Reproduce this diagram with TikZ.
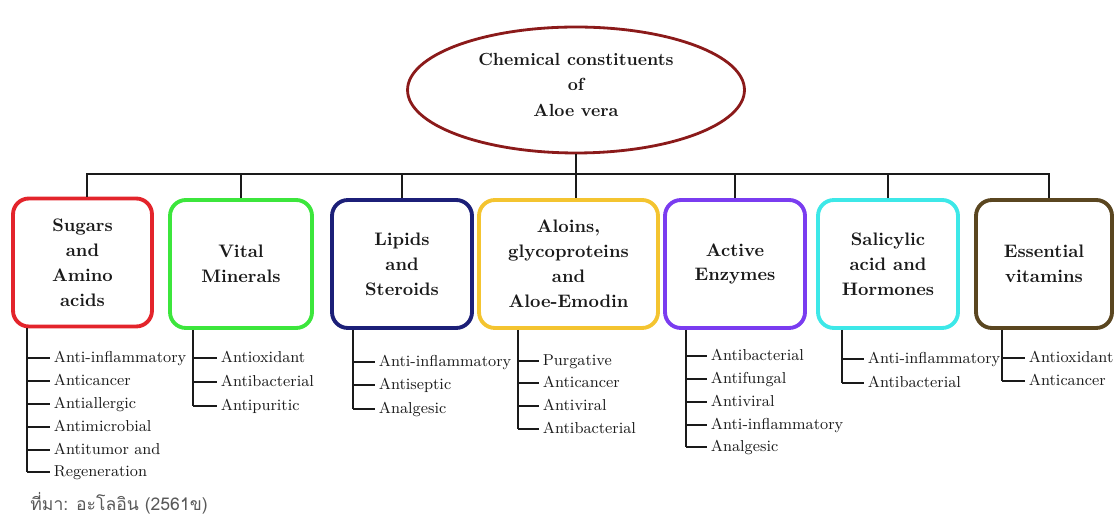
\documentclass[tikz,border=0pt]{standalone}
\usepackage{fontspec}
\newfontfamily\thaifont[Script=Thai]{Loma}
\usetikzlibrary{shapes.geometric,calc}
\definecolor{rootred}{HTML}{8B1A1A}
\definecolor{sugred}{HTML}{E3242B}
\definecolor{vitgreen}{HTML}{3CE63C}
\definecolor{lipblue}{HTML}{1C1F78}
\definecolor{alogold}{HTML}{F4C430}
\definecolor{enzviolet}{HTML}{7A3CF0}
\definecolor{salcyan}{HTML}{3DE8E8}
\definecolor{vitbrown}{HTML}{5A4620}
\definecolor{inkgray}{HTML}{1A1A1A}
\tikzset{
  root/.style={ellipse, draw=rootred, line width=1.6pt, minimum width=6.74cm, minimum height=2.52cm, align=center, font=\fontsize{10}{14.7}\selectfont\bfseries, text=inkgray},
  group/.style={rectangle, rounded corners=9pt, line width=2.2pt, minimum height=2.56cm, align=center, font=\fontsize{10.3}{14.2}\selectfont\bfseries, text=inkgray, fill=white},
  leaf/.style={anchor=west, inner xsep=2pt, inner ysep=0pt, text height=7pt, text depth=2pt, font=\fontsize{9}{12}\selectfont, text=inkgray},
  tree/.style={line width=1.3pt, draw=inkgray},
  twig/.style={line width=0.7pt, draw=inkgray}
}

\begin{document}
\begin{tikzpicture}[x=0.02cm, y=-0.02cm]
\useasboundingbox (0,0) rectangle (1114,519);
% root and groups
\node[root, text depth=6pt] (root) at (576,90) {Chemical constituents\\of\\Aloe vera};
\node[group, draw=sugred, minimum width=2.78cm] (sug) at (82.5,262.5) {Sugars\\and\\Amino\\acids};
\node[group, draw=vitgreen, minimum width=2.84cm] (vit) at (241,264) {Vital\\Minerals};
\node[group, draw=lipblue, minimum width=2.80cm] (lip) at (402,264) {Lipids\\and\\Steroids};
\node[group, draw=alogold, minimum width=3.58cm] (alo) at (568.5,264) {Aloins,\\glycoproteins\\and\\Aloe-Emodin};
\node[group, draw=enzviolet, minimum width=2.80cm] (enz) at (735,264) {Active\\Enzymes};
\node[group, draw=salcyan, minimum width=2.80cm] (sal) at (888,264) {Salicylic\\acid and\\Hormones};
\node[group, draw=vitbrown, minimum width=2.72cm] (esv) at (1044,264) {Essential\\vitamins};
% bus
\coordinate (bus) at (0,174);
\coordinate (busL) at ($(sug.north)+(4.5,0)$);
\coordinate (busR) at ($(esv.north)+(5,0)$);
\draw[tree] (busL) -- (busL |- bus) -- (busR |- bus) -- (busR);
\foreach \b in {vit,lip,enz,sal} \draw[tree] (\b.north) -- (\b.north |- bus);
\draw[tree] (root.south) -- (alo.north -| root.south);
% leaf lists
\coordinate (t1) at ($(sug.south west)+(16,0)$);
\foreach \t/\y [count=\i] in {Anti-inflammatory/358, Anticancer/381, Antiallergic/404, Antimicrobial/427, Antitumor and/450, Regeneration/472}{
  \node[leaf] (s1-\i) at (50,\y) {\t};
  \draw[twig] (t1 |- s1-\i.west) -- (s1-\i.west);
}
\draw[tree] (t1) -- (t1 |- s1-6.west);
\coordinate (t2) at ($(vit.south west)+(25,0)$);
\foreach \t/\y [count=\i] in {Antioxidant/358, Antibacterial/382, Antipuritic/406}{
  \node[leaf] (s2-\i) at (217,\y) {\t};
  \draw[twig] (t2 |- s2-\i.west) -- (s2-\i.west);
}
\draw[tree] (t2) -- (t2 |- s2-3.west);
\coordinate (t3) at ($(lip.south west)+(23,0)$);
\foreach \t/\y [count=\i] in {Anti-inflammatory/362, Antiseptic/385, Analgesic/409}{
  \node[leaf] (s3-\i) at (375,\y) {\t};
  \draw[twig] (t3 |- s3-\i.west) -- (s3-\i.west);
}
\draw[tree] (t3) -- (t3 |- s3-3.west);
\coordinate (t4) at ($(alo.south west)+(41,0)$);
\foreach \t/\y [count=\i] in {Purgative/361, Anticancer/383, Antiviral/406, Antibacterial/429}{
  \node[leaf] (s4-\i) at (539,\y) {\t};
  \draw[twig] (t4 |- s4-\i.west) -- (s4-\i.west);
}
\draw[tree] (t4) -- (t4 |- s4-4.west);
\coordinate (t5) at ($(enz.south west)+(23,0)$);
\foreach \t/\y [count=\i] in {Antibacterial/356, Antifungal/379, Antiviral/402, Anti-inflammatory/425, Analgesic/447}{
  \node[leaf] (s5-\i) at (707,\y) {\t};
  \draw[twig] (t5 |- s5-\i.west) -- (s5-\i.west);
}
\draw[tree] (t5) -- (t5 |- s5-5.west);
\coordinate (t6) at ($(sal.south west)+(26,0)$);
\foreach \t/\y [count=\i] in {Anti-inflammatory/359, Antibacterial/383}{
  \node[leaf] (s6-\i) at (864,\y) {\t};
  \draw[twig] (t6 |- s6-\i.west) -- (s6-\i.west);
}
\draw[tree] (t6) -- (t6 |- s6-2.west);
\coordinate (t7) at ($(esv.south west)+(28,0)$);
\foreach \t/\y [count=\i] in {Antioxidant/358, Anticancer/381}{
  \node[leaf] (s7-\i) at (1025,\y) {\t};
  \draw[twig] (t7 |- s7-\i.west) -- (s7-\i.west);
}
\draw[tree] (t7) -- (t7 |- s7-2.west);
% source
\node[anchor=west, inner sep=0pt, font=\thaifont\fontsize{10}{12}\selectfont, text=black!65] (src) at (30,503) {ที่มา: อะโลอิน (2561ข)};
\end{tikzpicture}
\end{document}
